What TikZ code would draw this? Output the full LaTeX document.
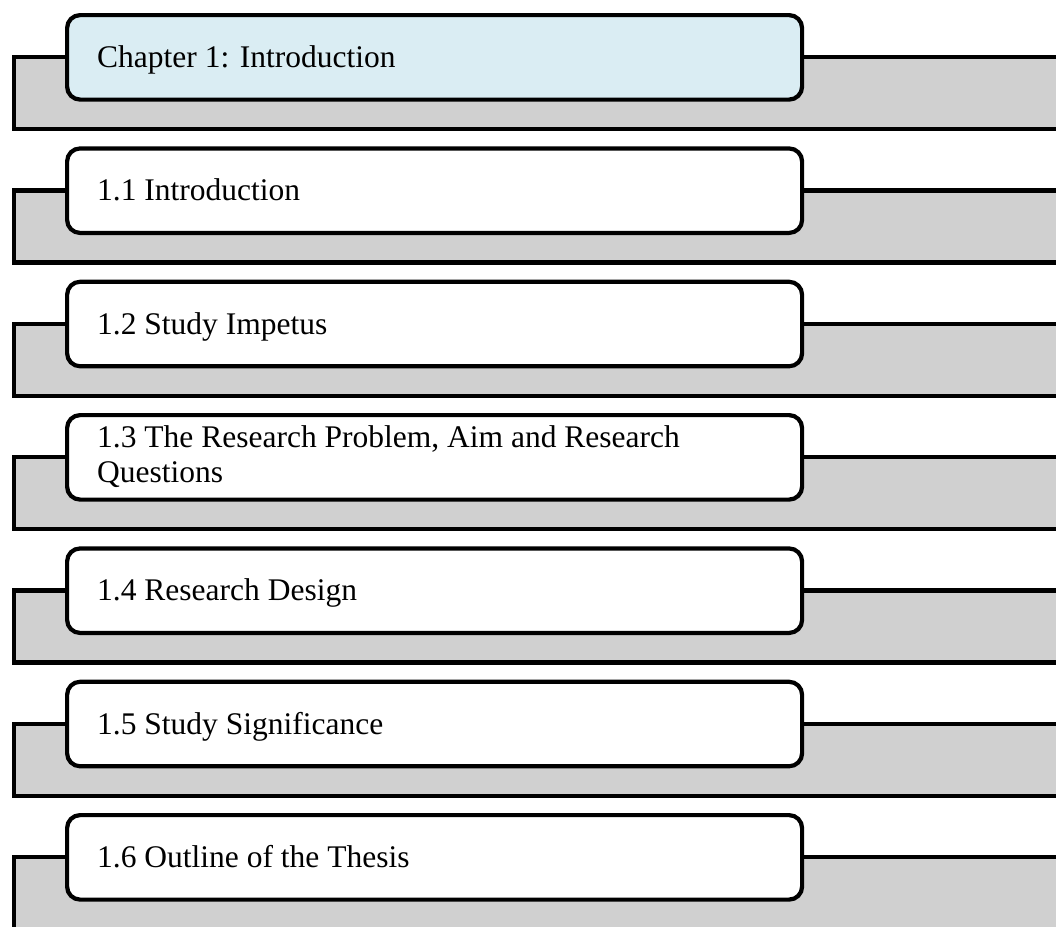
\documentclass[tikz,border=0pt]{standalone}
\usepackage{fontspec}
\setmainfont{Liberation Serif}
\definecolor{bandgrey}{HTML}{D0D0D0}
\definecolor{headblue}{HTML}{DAEDF3}
\begin{document}
\begin{tikzpicture}[x=1pt,y=1pt,
  band/.style={draw=black, line width=4.2pt, fill=bandgrey, rectangle,
    minimum width=1070pt, minimum height=72pt, inner sep=0pt, anchor=north west},
  tab/.style={draw=black, line width=4.2pt, fill=white, rectangle, rounded corners=13pt,
    minimum width=735pt, minimum height=84.5pt, inner sep=0pt, anchor=north west},
  lbl/.style={font=\fontsize{31.5}{35}\selectfont, inner sep=0pt, anchor=base west, align=left}]
\useasboundingbox (0,0) rectangle (1056,-926);
\clip (0,0) rectangle (1056,-926);

% grey bands behind each heading tab
\node[band] (g0) at (12,-55) {};
\node[band] (g1) at (12,-188.33) {};
\node[band] (g2) at (12,-321.67) {};
\node[band] (g3) at (12,-455) {};
\node[band] (g4) at (12,-588.33) {};
\node[band] (g5) at (12,-721.67) {};
\node[band] (g6) at (12,-855) {};

% heading tabs
\node[tab, fill=headblue] (b0) at (65,-13) {};
\node[tab] (b1) at (65,-146.33) {};
\node[tab] (b2) at (65,-279.67) {};
\node[tab] (b3) at (65,-413) {};
\node[tab] (b4) at (65,-546.33) {};
\node[tab] (b5) at (65,-679.67) {};
\node[tab] (b6) at (65,-813) {};

% tab labels (base of a two-line label is its last line)
\node[lbl] (t0) at ([xshift=32pt,yshift=-10pt]b0.west) {Chapter 1: Introduction};
\node[lbl] (t1) at ([xshift=32pt,yshift=-10pt]b1.west) {1.1 Introduction};
\node[lbl] (t2) at ([xshift=32pt,yshift=-10pt]b2.west) {1.2 Study Impetus};
\node[lbl] (t3) at ([xshift=32pt,yshift=-25pt]b3.west) {1.3 The Research Problem, Aim and Research\\Questions};
\node[lbl] (t4) at ([xshift=32pt,yshift=-10pt]b4.west) {1.4 Research Design};
\node[lbl] (t5) at ([xshift=32pt,yshift=-10pt]b5.west) {1.5 Study Significance};
\node[lbl] (t6) at ([xshift=32pt,yshift=-10pt]b6.west) {1.6 Outline of the Thesis};
\end{tikzpicture}
\end{document}
